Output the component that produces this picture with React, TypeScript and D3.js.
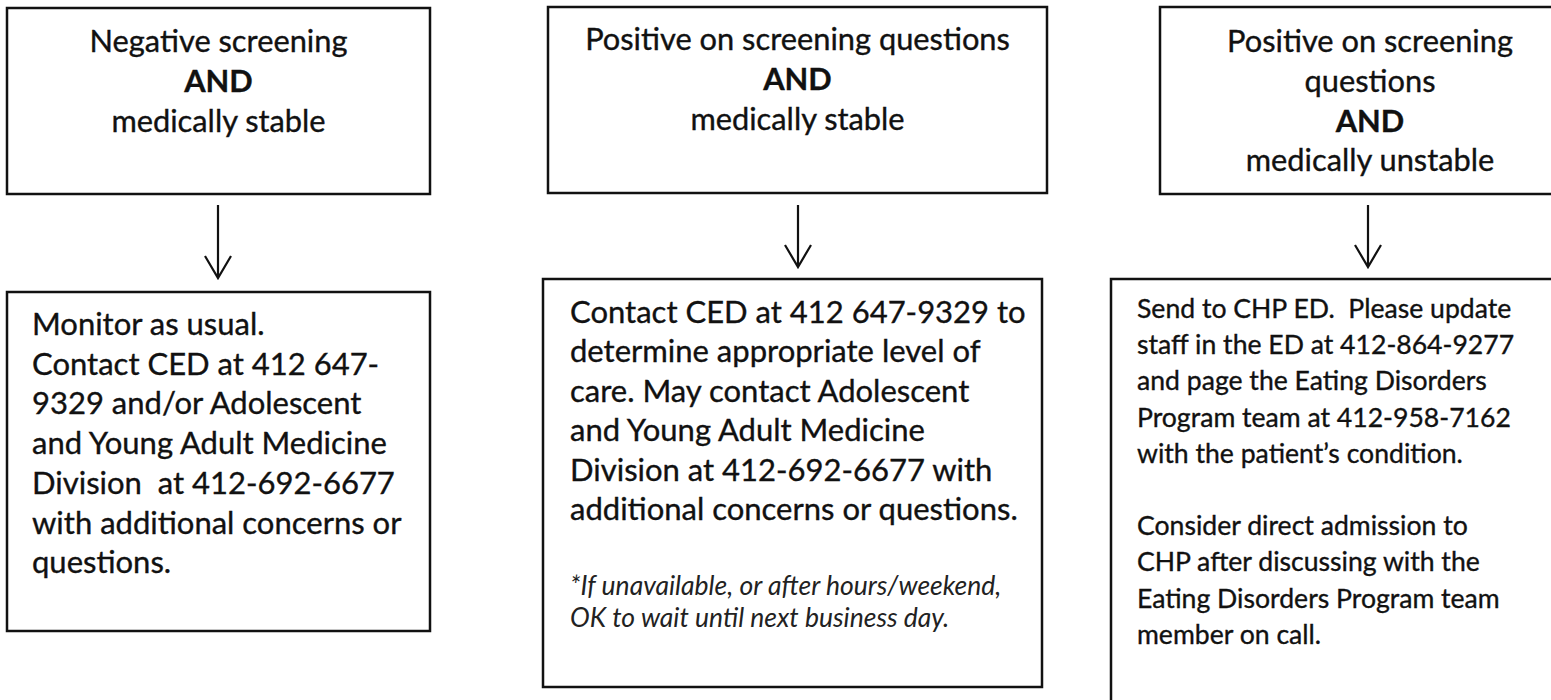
import React, { useEffect, useRef } from "react";
import * as d3 from "d3";

// Condition boxes (top row)
const conditionLines: string[][] = [
  ["Negative screening", "AND", "medically stable"],
  ["Positive on screening questions", "AND", "medically stable"],
  ["Positive on screening", "questions", "AND", "medically unstable"],
];

// Action boxes (bottom row)
const actionLines: string[][] = [
  [
    "Monitor as usual.",
    "Contact CED at 412 647-",
    "9329 and/or Adolescent",
    "and Young Adult Medicine",
    "Division  at 412-692-6677",
    "with additional concerns or",
    "questions.",
  ],
  [
    "Contact CED at 412 647-9329 to",
    "determine appropriate level of",
    "care. May contact Adolescent",
    "and Young Adult Medicine",
    "Division at 412-692-6677 with",
    "additional concerns or questions.",
  ],
  [
    "Send to CHP ED.  Please update",
    "staff in the ED at 412-864-9277",
    "and page the Eating Disorders",
    "Program team at 412-958-7162",
    "with the patient\u2019s condition.",
    "",
    "Consider direct admission to",
    "CHP after discussing with the",
    "Eating Disorders Program team",
    "member on call.",
  ],
];

const noteLines: string[] = [
  "*If unavailable, or after hours/weekend,",
  "OK to wait until next business day.",
];

const W = 1551;
const H = 700;
const FONT = "Lato, 'Open Sans', sans-serif";
const INK = "#111";

// box geometry: [x, y, w, h]
const topBoxes = [
  [7, 8, 423, 186],
  [548, 7, 499, 186],
  [1160, 7, 420, 187],
];
const bottomBoxes = [
  [7, 292, 423, 339],
  [543, 279, 499, 408],
  [1111, 279, 500, 500],
];
const arrowX = [218, 798, 1368];
const arrowY = [[205, 278], [205, 267], [205, 267]];
const topFirstBase = [52, 50, 52];
const bottomText = [
  { x: 32, y: 335, step: 39.7, size: 31 },
  { x: 570, y: 323, step: 39.4, size: 31 },
  { x: 1137, y: 318, step: 36.2, size: 26.6 },
];

export default function App() {
  const ref = useRef<SVGSVGElement>(null);

  useEffect(() => {
    if (!ref.current) return;
    draw(ref.current);
  }, []);

  return (
    <svg
      ref={ref}
      width={W}
      height={H}
      style={{ position: "absolute", left: 0, top: 0, background: "#fff" }}
    />
  );
}

function draw(svg: SVGSVGElement) {
  const el = d3.select(svg);
  el.selectAll("*").remove();

  const g = el.append("g");

  // Top condition boxes
  conditionLines.forEach((lines, i) => {
    const [x, y, w, h] = topBoxes[i];
    g.append("rect")
      .attr("x", x).attr("y", y).attr("width", w).attr("height", h)
      .attr("fill", "#fff").attr("stroke", INK).attr("stroke-width", 2.5);
    const cx = x + w / 2;
    lines.forEach((t, j) => {
      g.append("text")
        .attr("x", cx)
        .attr("y", topFirstBase[i] + j * 39.8)
        .attr("text-anchor", "middle")
        .attr("font-family", FONT)
        .attr("font-size", 30.8)
        .attr("font-weight", t === "AND" ? 700 : 400)
        .attr("fill", INK)
        .attr("stroke", INK)
        .attr("stroke-width", 0.35)
        .text(t);
    });
  });

  // Arrows (open V heads)
  arrowX.forEach((ax, i) => {
    const [y0, y1] = arrowY[i];
    const path = d3.path();
    path.moveTo(ax, y0);
    path.lineTo(ax, y1);
    path.moveTo(ax - 13, y1 - 22);
    path.lineTo(ax, y1);
    path.lineTo(ax + 13, y1 - 22);
    g.append("path")
      .attr("d", path.toString())
      .attr("fill", "none")
      .attr("stroke", INK)
      .attr("stroke-width", 2.2);
  });

  // Bottom action boxes
  actionLines.forEach((lines, i) => {
    const [x, y, w, h] = bottomBoxes[i];
    g.append("rect")
      .attr("x", x).attr("y", y).attr("width", w).attr("height", h)
      .attr("fill", "#fff").attr("stroke", INK).attr("stroke-width", 2.5);
    const tx = bottomText[i];
    lines.forEach((t, j) => {
      if (!t) return;
      g.append("text")
        .attr("x", tx.x)
        .attr("y", tx.y + j * tx.step)
        .attr("font-family", FONT)
        .attr("font-size", tx.size)
        .attr("fill", INK)
        .attr("stroke", INK)
        .attr("stroke-width", 0.35)
        .style("white-space", "pre")
        .text(t);
    });
  });

  // Italic note in the middle box
  noteLines.forEach((t, j) => {
    g.append("text")
      .attr("x", 570)
      .attr("y", 595 + j * 32)
      .attr("font-family", FONT)
      .attr("font-size", 26.5)
      .attr("font-style", "italic")
      .attr("fill", "#222")
      .text(t);
  });
}
